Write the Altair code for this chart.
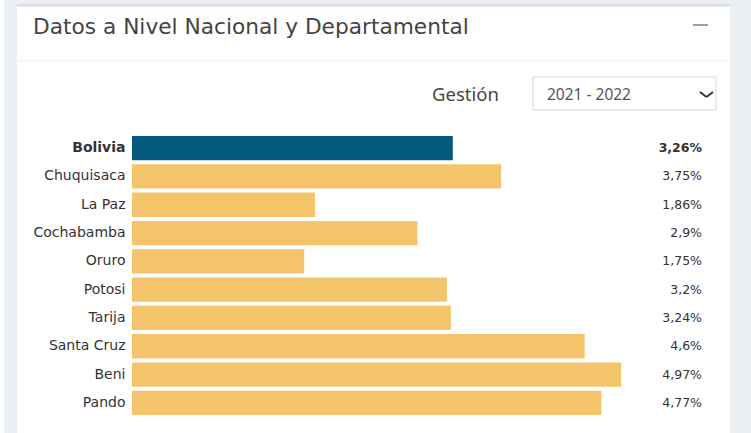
import altair as alt
import pandas as pd

regions = ["Bolivia", "Chuquisaca", "La Paz", "Cochabamba", "Oruro",
           "Potosi", "Tarija", "Santa Cruz", "Beni", "Pando"]
values = [3.26, 3.75, 1.86, 2.9, 1.75, 3.2, 3.24, 4.6, 4.97, 4.77]

df = pd.DataFrame({"region": regions, "value": values})
one = pd.DataFrame({"k": [0]})

FONT = "DejaVu Sans"
HFONT = "Noto Sans"

def rect(x, x2, y, y2, fill, stroke=None):
    kw = dict(fill=fill)
    if stroke:
        kw.update(stroke=stroke, strokeWidth=1)
    return alt.Chart(one).mark_rect(**kw).encode(
        x=alt.value(x), x2=alt.value(x2), y=alt.value(y), y2=alt.value(y2))

def txt(x, y, s, size, color, font=HFONT, weight="normal"):
    return alt.Chart(one).mark_text(
        align="left", baseline="middle", fontSize=size, color=color,
        font=font, fontWeight=weight).encode(
        x=alt.value(x), y=alt.value(y), text=alt.value(s))

def seg(x, x2, y, y2, color, w):
    return alt.Chart(one).mark_rule(color=color, strokeWidth=w).encode(
        x=alt.value(x), x2=alt.value(x2), y=alt.value(y), y2=alt.value(y2))

# page / card decorations (coordinates relative to plot origin)
bg = rect(-128, 619, -134, 299, "#ecf0f5")
card = rect(-115, 598, -130, 299, "#ffffff")
border = rect(-115, 598, -130, -127.5, "#d9dde4")
sep = rect(-115, 598, -73.5, -72.5, "#f2f2f2")
header = txt(-99, -107, "Datos a Nivel Nacional y Departamental", 21.7, "#444444", font=FONT)
minus = rect(561, 576, -110, -108, "#97a0b3")
gest = txt(300, -39, "Gestión", 18.5, "#444444")
box = rect(401, 584, -57, -24, "#ffffff", stroke="#d6d6d6")
boxtxt = txt(415, -39, "2021 - 2022", 15.5, "#555555")
chev1 = seg(568, 574.5, -42, -37, "#333333", 2)
chev2 = seg(574.5, 581, -37, -42, "#333333", 2)

yaxis = alt.Axis(title=None, ticks=False, domain=False, zindex=1,
                 labelFont=FONT, labelFontSize=14,
                 labelColor="#333333", labelPadding=7,
                 labelFontWeight=alt.expr("datum.value === 'Bolivia' ? 'bold' : 'normal'"))
yscale = alt.Scale(paddingInner=0.14, paddingOuter=0.07)

bars = alt.Chart(df).mark_bar().encode(
    x=alt.X("value:Q", scale=alt.Scale(domain=[0, 5], nice=False), axis=None),
    y=alt.Y("region:N", sort=regions, scale=yscale, axis=yaxis),
    color=alt.Color("region:N",
                    scale=alt.Scale(domain=regions,
                                    range=["#045a7d"] + ["#f4c46b"] * 9),
                    legend=None),
)

lab_base = alt.Chart(df).transform_calculate(
    lab="replace(toString(datum.value), '.', ',') + '%'")

lab_b = lab_base.transform_filter("datum.region === 'Bolivia'").mark_text(
    align="right", baseline="middle", font=FONT, fontSize=12.5,
    fontWeight="bold", color="#333333").encode(
    x=alt.value(570), y=alt.Y("region:N", sort=regions, scale=yscale, axis=yaxis),
    text="lab:N")
lab_o = lab_base.transform_filter("datum.region !== 'Bolivia'").mark_text(
    align="right", baseline="middle", font=FONT, fontSize=12.5,
    color="#333333").encode(
    x=alt.value(570), y=alt.Y("region:N", sort=regions, scale=yscale, axis=yaxis),
    text="lab:N")

chart = alt.layer(
    bg, card, border, sep, header, minus, gest, box, boxtxt, chev1, chev2,
    bars, lab_b, lab_o
).properties(
    width=492, height=283,
    padding={"left": 132, "top": 134, "right": 127, "bottom": 16},
    autosize=alt.AutoSizeParams(type="none"),
    background="#ffffff",
).configure_view(strokeWidth=0)

chart.save("out.html", embed_options={"renderer": "svg", "actions": False})
